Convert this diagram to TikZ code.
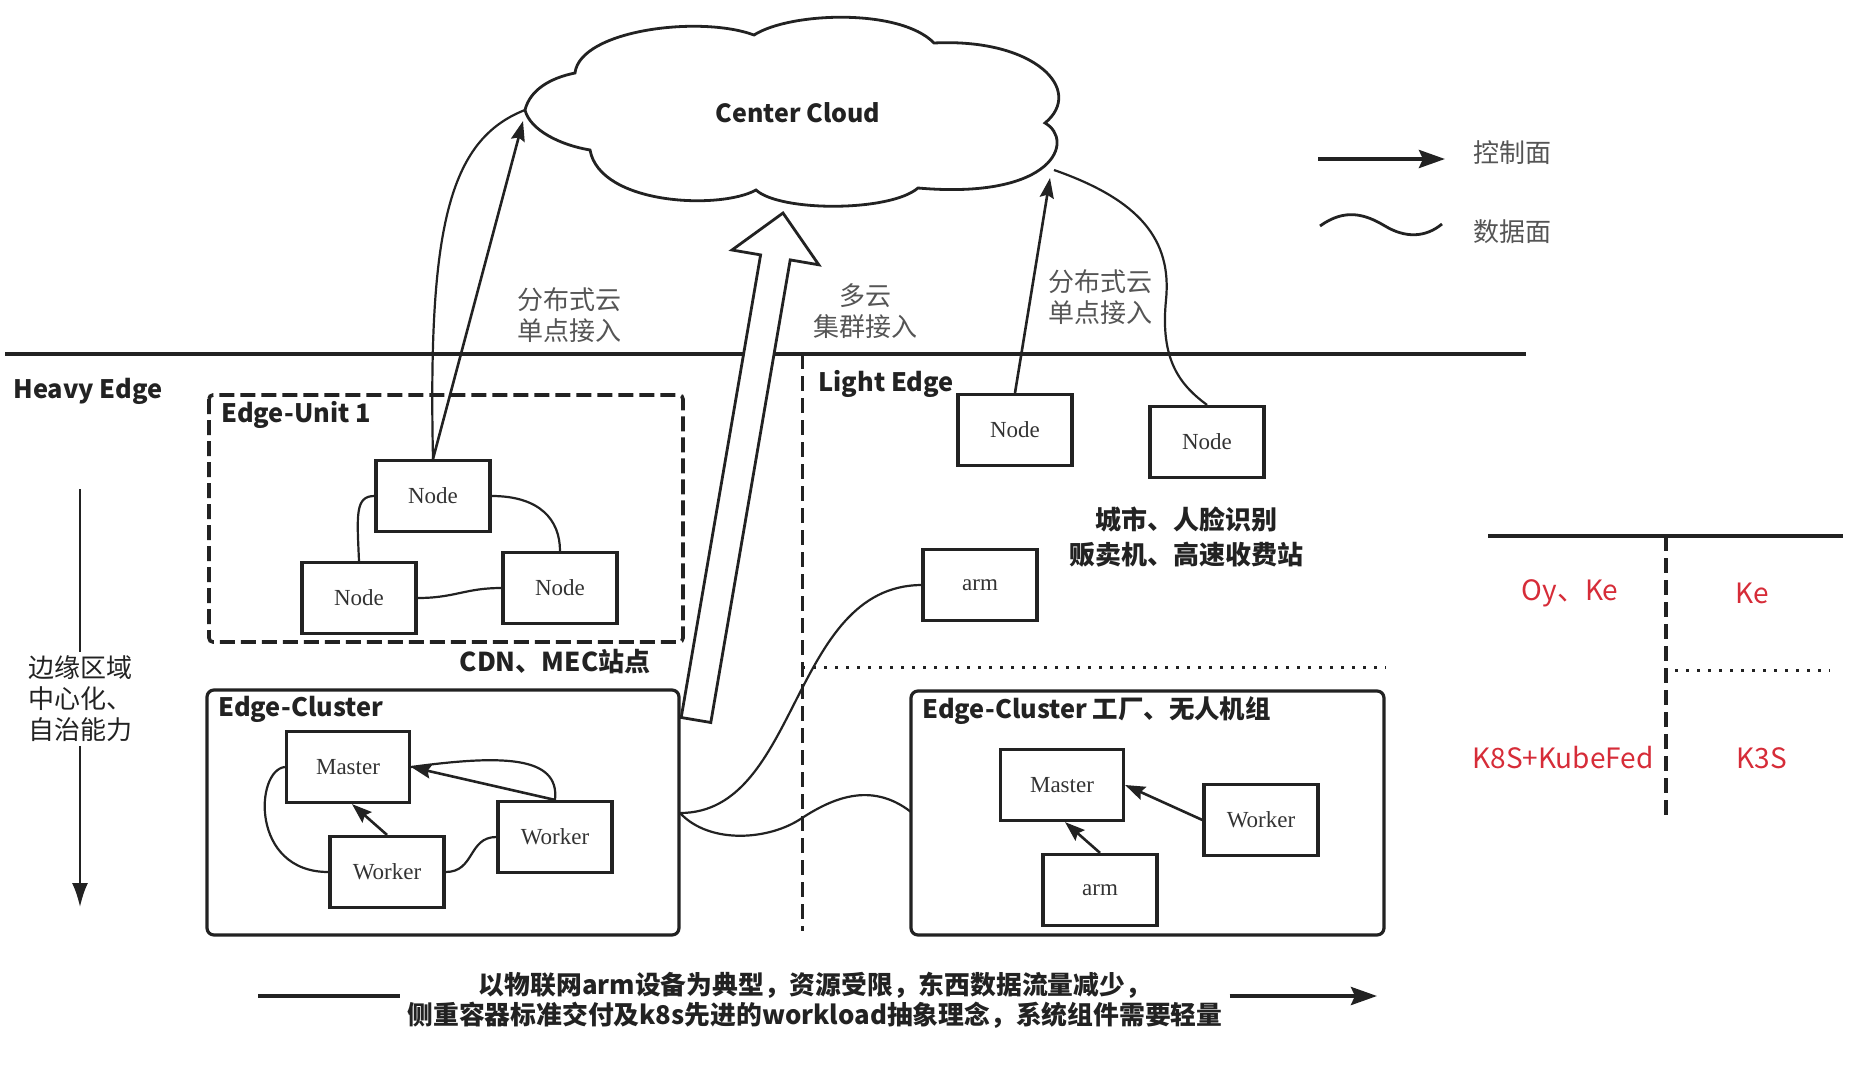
\documentclass[tikz,border=0pt]{standalone}
\usepackage{fontspec}
\setmainfont{Noto Sans CJK SC}
\newfontfamily\boxfont{Liberation Serif}
\usetikzlibrary{arrows.meta}
\definecolor{ink}{RGB}{34,34,34}
\definecolor{lblgray}{RGB}{85,85,85}
\definecolor{tblred}{RGB}{214,44,56}

\tikzset{
  box/.style={draw=ink, line width=1.6pt, minimum width=57pt, minimum height=35.5pt,
    inner sep=0pt, text=black!80, font=\boxfont\fontsize{11.5}{13}\selectfont},
  widebox/.style={box, minimum width=61.5pt},
  ctrl/.style={draw=ink, line width=1.3pt, -{Stealth[length=10pt,width=7pt,inset=1.5pt]}},
  data/.style={draw=ink, line width=1.1pt},
  bigline/.style={draw=ink, line width=2pt},
  legarrow/.style={bigline, -{Stealth[length=13pt,width=9pt,inset=2pt]}},
  hd/.style={anchor=west, inner sep=0pt, text=ink, font=\bfseries\fontsize{12.7}{15}\selectfont},
  lbl/.style={align=center, text=lblgray, font=\fontsize{13}{15.5}\selectfont},
  note/.style={align=center, text=ink, font=\bfseries\fontsize{13}{17.5}\selectfont},
  redtxt/.style={text=tblred, font=\fontsize{14}{16}\selectfont},
  group/.style={draw=ink, line width=1.6pt, rounded corners=3.5pt}
}

\begin{document}
\begin{tikzpicture}[x=0.5pt, y=-0.5pt]
  \useasboundingbox (0,0) rectangle (1858,1066);

  \draw[ink, line width=1.4pt, fill=white]
    (525,110) .. controls (530,90) and (550,78) .. (575,73)
    .. controls (580,30) and (700,15) .. (754,35)
    .. controls (790,12) and (900,8) .. (934,43)
    .. controls (1035,38) and (1085,90) .. (1045,123)
    .. controls (1075,140) and (1055,200) .. (918,188)
    .. controls (890,212) and (780,212) .. (756,190)
    .. controls (720,210) and (600,205) .. (590,150)
    .. controls (560,145) and (530,130) .. (525,110) -- cycle;
  \node[text=ink, font=\bfseries\fontsize{12.5}{15}\selectfont] (cloud) at (798,113) {Center Cloud};
  \coordinate (clTip) at (525,110);
  \coordinate (clA) at (523,121);
  \coordinate (clB) at (1050,178);
  \coordinate (clC) at (1054,170);

  \draw[bigline, line width=1.8pt] (5,354) -- (1526,354);
  \draw[ink, line width=1.5pt, dash pattern=on 7.5pt off 3.5pt] (802,354) -- (802,931);
  \draw[ink, line width=1.5pt, dash pattern=on 1.5pt off 4pt] (802,667) -- (1386,667);

  \draw[group, rounded corners=2pt, line width=1.8pt, dash pattern=on 7.5pt off 3pt] (209,395) rectangle (683,642);
  \draw[group] (207,690) rectangle (679,935);
  \draw[group] (911,691) rectangle (1384,935);

  \node[hd] (heavy) at (13,391) {Heavy Edge};
  \node[hd] (light) at (818,384) {Light Edge};
  \node[hd] (unit) at (221,415) {Edge-Unit 1};
  \node[hd] (clusA) at (218,709) {Edge-Cluster};
  \node[hd] (clusB) at (922,711) {Edge-Cluster\ 工厂、无人机组};

  \foreach \nm/\x/\y/\t in {nU/433/496/Node, nUl/359/598/Node, nUr/560/588/Node,
      nL1/1015/430/Node, nL2/1207/442/Node, armA/980/585/arm,
      wR/555/837/Worker, wB/387/872/Worker, wR2/1261/820/Worker, armB/1100/890/arm}
    \node[box] (\nm) at (\x,\y) {\t};
  \foreach \nm/\x/\y in {mL/348/767, mR/1062/785}
    \node[widebox] (\nm) at (\x,\y) {Master};

  \draw[ctrl] (nU.north) -- (clA);
  \draw[data] (nU.north) .. controls (428,230) and (448,140) .. (clTip);
  \draw[ctrl] (nL1.north) -- (clB);
  \draw[data] (clC) .. controls (1140,200) and (1172,240) .. (1166,300)
    .. controls (1160,360) and (1180,385) .. (nL2.north);

  \draw[ink, line width=1.4pt, fill=white, line join=miter]
    (681.2,717.5) -- (760.6,254.9) -- (732,250) -- (783,213) -- (818.8,264.8)
    -- (790.2,259.9) -- (710.8,722.5) -- cycle;

  \draw[data] (nU.west) .. controls (355,496) and (357,515) .. (nUl.north);
  \draw[data] (nU.east) .. controls (540,496) and (560,520) .. (nUr.north);
  \draw[data] (nUl.east) .. controls (455,598) and (465,588) .. (nUr.west);

  \draw[ctrl] (wR.north) -- (mL.east);
  \draw[data] (wR.north) .. controls (560,755) and (500,755) .. (mL.east);
  \draw[ctrl] (wB.north) -- ([xshift=2pt]mL.south);
  \draw[data] (mL.west) .. controls (255,770) and (250,872) .. (wB.west);
  \draw[data] (wB.east) .. controls (475,872) and (468,837) .. (wR.west);

  \draw[ctrl] (wR2.west) -- (mR.east);
  \draw[ctrl] (armB.north) -- ([xshift=1.5pt]mR.south);

  \coordinate (cAr) at (680,813);
  \coordinate (cBl) at (911,812);
  \draw[data] (cAr) .. controls (800,813) and (790,586) .. (armA.west);
  \draw[data] (cAr) .. controls (710,845) and (770,840) .. (802,818)
    .. controls (830,800) and (870,780) .. (cBl);

  \node[lbl] (dist1) at (569,315) {分布式云\\单点接入};
  \node[lbl] (multi) at (865,311) {多云\\集群接入};
  \node[lbl] (dist2) at (1100,297) {分布式云\\单点接入};
  \node[text=ink, font=\bfseries\fontsize{13}{16}\selectfont] (cdn) at (555,662) {CDN、MEC站点};
  \node[note] (city) at (1186,537) {城市、人脸识别\\贩卖机、高速收费站};

  \coordinate (lgA) at (1318,159);
  \coordinate (lgB) at (1445,159);
  \draw[legarrow] (lgA) -- (lgB);
  \draw[ink, line width=1.4pt] (1320,226) .. controls (1345,208) and (1365,214) .. (1385,226)
    .. controls (1405,238) and (1425,238) .. (1442,224);
  \node[lbl] (ctrltxt) at (1512,153) {控制面};
  \node[lbl] (datatxt) at (1512,232) {数据面};

  \draw[bigline] (1488,536) -- (1843,536);
  \draw[ink, line width=1.6pt, dash pattern=on 7.5pt off 3.5pt] (1666,536) -- (1666,820);
  \draw[ink, line width=1.5pt, dash pattern=on 1.5pt off 4pt] (1675,670) -- (1830,670);
  \foreach \nm/\x/\y/\t in {oyke/1570/593/{Oy、Ke}, ke/1752/593/Ke,
      kfed/1563/758/K8S+KubeFed, kthree/1762/758/K3S}
    \node[redtxt] (\nm) at (\x,\y) {\t};

  \node[align=left, text=ink, font=\fontsize{13}{15.5}\selectfont, inner sep=2pt] (region) at (80,699) {边缘区域\\中心化、\\自治能力};
  \coordinate (vTop) at (80,489);
  \coordinate (vBot) at (80,907);
  \draw[data] (vTop) -- (region.north);
  \draw[data, -{Latex[length=12pt,width=8pt]}] (region.south) -- (vBot);

  \node[note, font=\bfseries\fontsize{12.9}{15}\selectfont] (bottom) at (815,1000)
    {以物联网arm设备为典型，资源受限，东西数据流量减少，\\侧重容器标准交付及k8s先进的workload抽象理念，系统组件需要轻量};
  \coordinate (botL) at (258,996);
  \coordinate (botR) at (1377,996);
  \draw[bigline] (botL) -- (botL -| bottom.west);
  \draw[legarrow] (botR -| bottom.east) -- (botR);
\end{tikzpicture}
\end{document}
